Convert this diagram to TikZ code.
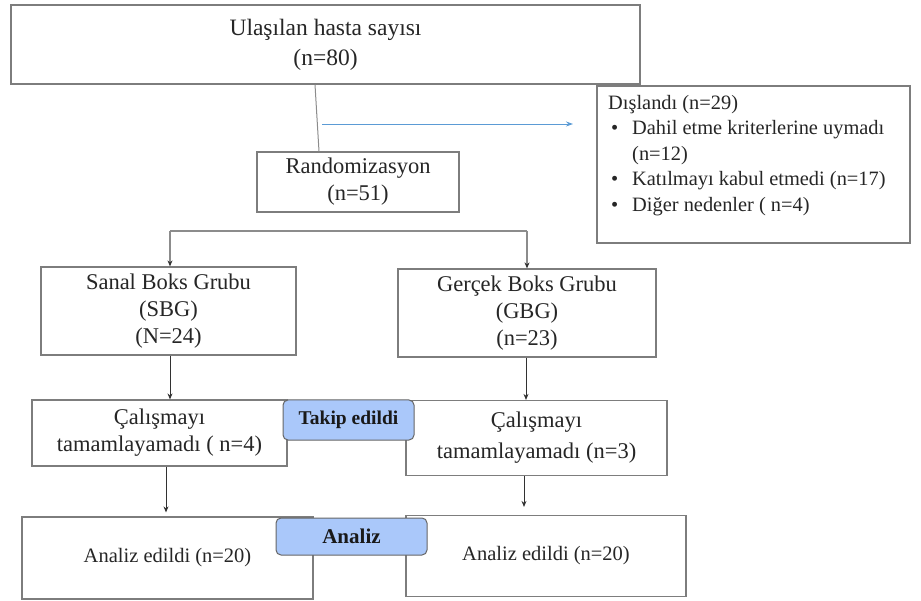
\documentclass[tikz,border=0pt]{standalone}
\usepackage{fontspec}
\setmainfont{Liberation Serif}
\usetikzlibrary{arrows.meta}
\definecolor{boxgray}{RGB}{125,125,125}
\definecolor{lblue}{RGB}{170,200,250}
\definecolor{arrblue}{RGB}{91,155,213}
\definecolor{linegray}{RGB}{140,140,140}
\definecolor{arrdark}{RGB}{50,50,50}
\tikzset{
  boxnode/.style={draw=boxgray, line width=1.2pt, fill=white, inner sep=0pt, align=center,
    font=\fontsize{22.5}{27}\selectfont, text=black!85},
  tagnode/.style={draw=black!60, line width=1pt, fill=lblue, rounded corners=5pt, inner sep=0pt,
    font=\fontsize{19.5}{23}\selectfont\bfseries, text=black!90},
  conn/.style={draw=arrdark, line width=0.8pt, -{Stealth[length=6pt,width=5pt]}},
  branch/.style={draw=linegray, line width=1.4pt},
  brancharr/.style={draw=linegray, line width=1.4pt, -{Stealth[length=6pt,width=5pt,color=arrdark]}},
  bluearr/.style={draw=arrblue, line width=0.9pt, -{Stealth[length=7pt,width=5pt]}}
}
\begin{document}
\begin{tikzpicture}[x=1pt,y=-1pt]
\useasboundingbox (0,0) rectangle (921,601);
% boxes
\node[boxnode, minimum width=629pt, minimum height=79pt, font=\fontsize{23.5}{30}\selectfont] (top) at (325.5,44.5) {Ulaşılan hasta sayısı\\(n=80)};
\node[boxnode, minimum width=202pt, minimum height=60pt] (rand) at (358,182) {Randomizasyon\\(n=51)};
\node[boxnode, minimum width=313pt, minimum height=157pt] (excl) at (753.5,164.5) {};
\node[anchor=north west, inner sep=0pt, align=left, font=\fontsize{20.4}{25.5}\selectfont, text=black!85]
  (excltext) at (608,95) {Dışlandı (n=29)\\
  \makebox[24pt][l]{\hspace{3pt}\textbullet}Dahil etme kriterlerine uymadı\\
  \hspace*{24pt}(n=12)\\
  \makebox[24pt][l]{\hspace{3pt}\textbullet}Katılmayı kabul etmedi (n=17)\\
  \makebox[24pt][l]{\hspace{3pt}\textbullet}Diğer nedenler ( n=4)};
\node[boxnode, minimum width=255pt, minimum height=88pt] (sanal) at (168.5,311) {Sanal Boks Grubu\\(SBG)\\(N=24)};
\node[boxnode, minimum width=258pt, minimum height=88pt] (gercek) at (527,313) {Gerçek Boks Grubu\\(GBG)\\(n=23)};
\node[boxnode, minimum width=255pt, minimum height=66pt] (calL) at (159.5,433) {Çalışmayı\\tamamlayamadı ( n=4)};
\node[boxnode, minimum width=261pt, minimum height=75pt, font=\fontsize{22.5}{31}\selectfont] (calR) at (536.5,438) {Çalışmayı\\tamamlayamadı (n=3)};
\node[boxnode, minimum width=291pt, minimum height=82pt, font=\fontsize{20.5}{25}\selectfont] (anL) at (167.5,558) {Analiz edildi (n=20)};
\node[boxnode, minimum width=280pt, minimum height=81pt, font=\fontsize{20.5}{25}\selectfont] (anR) at (546,556) {Analiz edildi (n=20)};
% connectors
\draw[draw=linegray, line width=1pt] ([xshift=-10.5pt]top.south) -- ([xshift=-39pt]rand.north);
\coordinate (bs) at (322,124);
\coordinate (be) at (573,124);
\draw[bluearr] (bs) -- (be);
\coordinate (bl) at (170,231);
\coordinate (br) at (527,231);
\draw[branch] (bl) -- (br);
\draw[brancharr] (bl) -- (bl |- sanal.north);
\draw[brancharr] (br) -- (br |- gercek.north);
\draw[conn] ([xshift=1.5pt]sanal.south) -- ([xshift=1.5pt]sanal.south |- calL.north);
\draw[conn] ([xshift=-1pt]gercek.south) -- ([xshift=-1pt]gercek.south |- calR.north);
\draw[conn, shorten >=4pt] ([xshift=6.5pt]calL.south) -- ([xshift=6.5pt]calL.south |- anL.north);
\draw[conn, shorten >=8pt] ([xshift=-12.5pt]calR.south) -- ([xshift=-12.5pt]calR.south |- anR.north);
% tags
\node[tagnode, minimum width=131pt, minimum height=40pt] (takip) at (348.5,420) {Takip edildi};
\node[tagnode, minimum width=151pt, minimum height=37pt, font=\fontsize{21}{25}\selectfont\bfseries] (analiz) at (351.5,536.5) {Analiz};
\end{tikzpicture}
\end{document}
